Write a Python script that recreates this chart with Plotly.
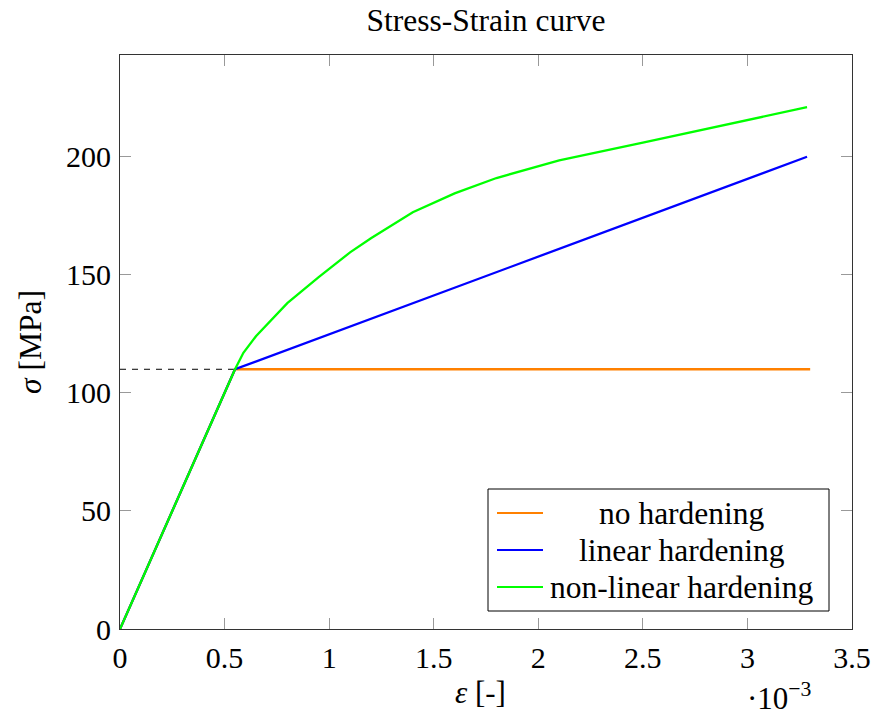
import plotly.graph_objects as go

# Strain values in [-], stresses in MPa
eps_none = [0.0, 0.55e-3, 3.30e-3]
sig_none = [0.0, 110.0, 110.0]

eps_linear = [0.0, 0.55e-3, 3.285e-3]
sig_linear = [0.0, 110.0, 200.0]

eps_nonlin = [0.0, 0.55e-3, 0.59e-3, 0.65e-3, 0.80e-3, 0.95e-3, 1.10e-3, 1.20e-3,
              1.40e-3, 1.60e-3, 1.80e-3, 2.10e-3, 2.50e-3, 2.90e-3, 3.285e-3]
sig_nonlin = [0.0, 110.0, 117.0, 124.0, 138.0, 149.0, 159.5, 165.5,
              176.5, 184.5, 191.0, 198.5, 206.0, 213.5, 221.0]

# Yield stress marker line
eps_yield_line = [0.0, 0.55e-3]
sig_yield_line = [110.0, 110.0]

series_names = ["no hardening", "linear hardening", "non-linear hardening"]
series_colors = ["#FF8000", "#0000FF", "#00FF00"]

x_tickvals = [0.0, 0.5e-3, 1.0e-3, 1.5e-3, 2.0e-3, 2.5e-3, 3.0e-3, 3.5e-3]
x_ticktext = ["0", "0.5", "1", "1.5", "2", "2.5", "3", "3.5"]
y_tickvals = [0, 50, 100, 150, 200]
y_ticktext = ["0", "50", "100", "150", "200"]

FONT = "Liberation Serif"
W, H = 874, 715
ML, MR, MT, MB = 120, 22, 55, 86


def px_to_paper(px, py):
    pw = W - ML - MR
    ph = H - MT - MB
    return (px - ML) / pw, (H - MB - py) / ph


fig = go.Figure()

fig.add_trace(go.Scatter(x=eps_yield_line, y=sig_yield_line, mode="lines",
                         line=dict(color="black", width=1, dash="6px,6px"),
                         showlegend=False, hoverinfo="skip"))

for xs, ys, name, col in [(eps_none, sig_none, series_names[0], series_colors[0]),
                          (eps_linear, sig_linear, series_names[1], series_colors[1]),
                          (eps_nonlin, sig_nonlin, series_names[2], series_colors[2])]:
    fig.add_trace(go.Scatter(x=xs, y=ys, mode="lines", name=name,
                             line=dict(color=col, width=2.3), showlegend=False))

axis_common = dict(
    showgrid=False, zeroline=False, showline=True, linecolor="#333333", linewidth=1,
    mirror="ticks", ticks="inside", ticklen=11, tickcolor="#999999", tickwidth=1,
    tickfont=dict(family=FONT, size=30, color="black"), automargin=False,
)

fig.update_xaxes(range=[0, 3.5e-3], tickvals=x_tickvals, ticktext=x_ticktext,
                 ticklabelstandoff=2, **axis_common)
fig.update_yaxes(range=[0, 243.1], tickvals=y_tickvals, ticktext=y_ticktext,
                 ticklabelstandoff=2, **axis_common)

# Legend box drawn as shapes and annotations
bx0, by0 = px_to_paper(488, 611)
bx1, by1 = px_to_paper(829, 489)
shapes = [dict(type="rect", xref="paper", yref="paper", x0=bx0, y0=by0, x1=bx1, y1=by1,
               line=dict(color="black", width=1), fillcolor="white", layer="above")]
annotations = []
for i, (name, col) in enumerate(zip(series_names, series_colors)):
    row_py = 513 + i * 37
    lx0, ly = px_to_paper(497, row_py)
    lx1, _ = px_to_paper(543, row_py)
    shapes.append(dict(type="line", xref="paper", yref="paper", x0=lx0, x1=lx1, y0=ly, y1=ly,
                       line=dict(color=col, width=2), layer="above"))
    tx, _ = px_to_paper(682, row_py)
    annotations.append(dict(text=name, xref="paper", yref="paper", x=tx, y=ly,
                            xanchor="center", yanchor="middle", showarrow=False,
                            font=dict(family=FONT, size=31.5, color="black")))

# Axis titles and scale factor
ax_x, ax_y = px_to_paper(480, 692)
annotations.append(dict(text="<i>ε</i> [-]", xref="paper", yref="paper", x=ax_x, y=ax_y,
                        xanchor="center", yanchor="middle", showarrow=False,
                        font=dict(family=FONT, size=31, color="black")))
ay_x, ay_y = px_to_paper(30, 342)
annotations.append(dict(text="<i>σ</i> [MPa]", xref="paper", yref="paper", x=ay_x, y=ay_y,
                        xanchor="center", yanchor="middle", showarrow=False, textangle=-90,
                        font=dict(family=FONT, size=31.5, color="black")))
sf_x, sf_y = px_to_paper(779, 696)
annotations.append(dict(text="·10<sup>−3</sup>", xref="paper", yref="paper", x=sf_x, y=sf_y,
                        xanchor="center", yanchor="middle", showarrow=False,
                        font=dict(family=FONT, size=31, color="black")))

fig.update_layout(
    width=W, height=H,
    margin=dict(l=ML, r=MR, t=MT, b=MB),
    paper_bgcolor="white", plot_bgcolor="white",
    title=dict(text="Stress-Strain curve", x=(ML + (W - MR)) / 2 / W, xanchor="center",
               y=1 - 20 / H, yanchor="middle",
               font=dict(family=FONT, size=31.5, color="black")),
    shapes=shapes, annotations=annotations,
)

fig.write_html("out.html")
